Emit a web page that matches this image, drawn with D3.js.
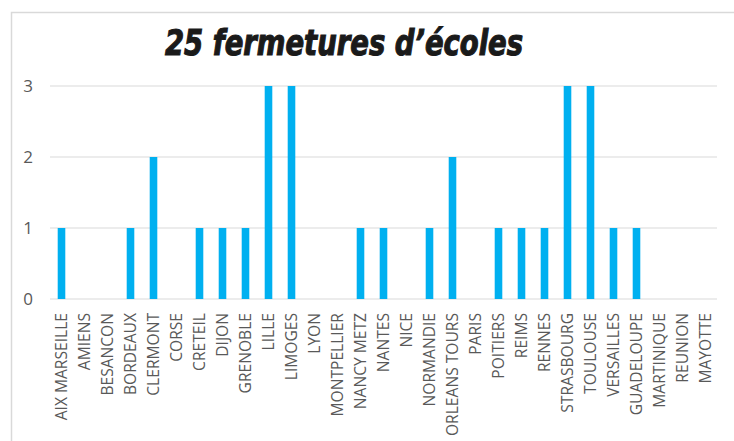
<!DOCTYPE html>
<html><head><meta charset="utf-8">
<script src="https://cdn.jsdelivr.net/npm/d3@7"></script>
<style>body{margin:0;background:#fff}svg{display:block}</style>
</head><body>
<script>
const categories = ["AIX MARSEILLE","AMIENS","BESANCON","BORDEAUX","CLERMONT","CORSE","CRETEIL","DIJON","GRENOBLE","LILLE","LIMOGES","LYON","MONTPELLIER","NANCY METZ","NANTES","NICE","NORMANDIE","ORLEANS TOURS","PARIS","POITIERS","REIMS","RENNES","STRASBOURG","TOULOUSE","VERSAILLES","GUADELOUPE","MARTINIQUE","REUNION","MAYOTTE"];
const values = [1,0,0,1,2,0,1,1,1,3,3,0,0,1,1,0,1,2,0,1,1,1,3,3,1,1,0,0,0];
const yTicks = [0,1,2,3];
const title = "25 fermetures d’écoles";

const W = 734, H = 441;
const svg = d3.select("body").append("svg").attr("width", W).attr("height", H);

// frame
svg.append("path").attr("d", `M11.5,${H} V12.5 H${W}`).attr("fill","none").attr("stroke","#d9d9d9").attr("stroke-width",1.5);

const x = d3.scaleBand().domain(categories).range([50, 717]).paddingInner(0.67).paddingOuter(0.335);
const y = d3.scaleLinear().domain([0,3]).range([299, 86]);

// grid
svg.append("g").selectAll("line").data(yTicks).join("line")
  .attr("x1", 50).attr("x2", 717).attr("y1", d=>y(d)).attr("y2", d=>y(d))
  .attr("stroke", "#d9d9d9").attr("stroke-width", 1.2);

// y labels
const yAxis = d3.axisLeft(y).tickValues(yTicks).tickFormat(d3.format("d")).tickSize(0).tickPadding(0);
const yg = svg.append("g").attr("transform","translate(33,0)").call(yAxis);
yg.select(".domain").remove();
yg.selectAll("text").attr("font-family","'Open Sans', sans-serif").attr("font-size",17).attr("fill","#595959");

// bars
svg.append("g").selectAll("rect").data(values).join("rect")
  .attr("x", (d,i)=>x(categories[i])).attr("width", x.bandwidth())
  .attr("y", d=>y(d)).attr("height", d=>y(0)-y(d))
  .attr("fill", "#00b0f0");

// x labels
const xAxis = d3.axisBottom(x).tickSize(0).tickPadding(0);
const xg = svg.append("g").attr("transform","translate(0,313)").call(xAxis);
xg.select(".domain").remove();
xg.selectAll("text")
  .attr("font-family","'Open Sans', sans-serif").attr("font-size",15.6).attr("fill","#595959")
  .attr("transform","rotate(-90)").attr("text-anchor","end").attr("x",0).attr("y",0).attr("dy","0.35em").attr("dx",0);

// title
svg.append("text").attr("x", 165).attr("y", 55)
  .attr("font-family","'DejaVu Sans Condensed','DejaVu Sans',sans-serif")
  .attr("font-weight","bold").attr("font-style","italic").attr("font-size",35)
  .attr("fill","#1a1a1a").attr("stroke","#1a1a1a").attr("stroke-width",1.1)
  .attr("textLength",358).attr("lengthAdjust","spacingAndGlyphs")
  .text(title);
</script>
</body></html>
